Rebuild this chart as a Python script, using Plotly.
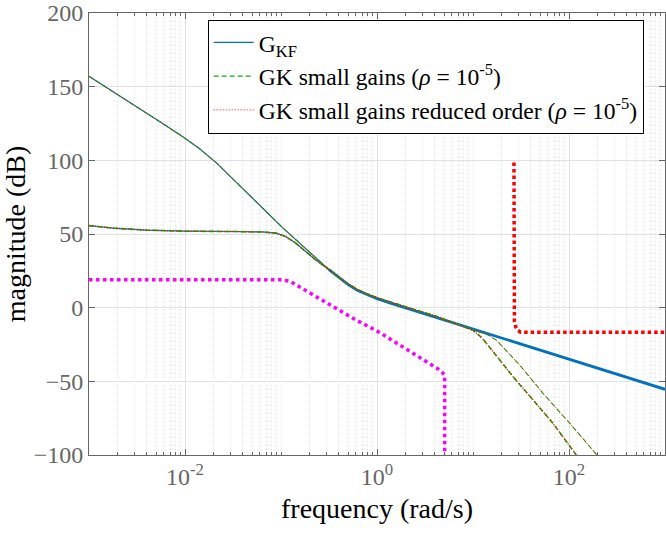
import plotly.graph_objects as go

# ---- data (frequency in rad/s, magnitude in dB) ----
freq_kf_high = [0.001, 0.002, 0.00427, 0.00631, 0.00955, 0.0141, 0.0214, 0.0316, 0.0472,
                0.0708, 0.105, 0.158, 0.234, 0.316]
mag_kf_high = [157.0, 144.6, 130.9, 123.6, 115.9, 108.0, 98.1, 87.5, 76.2,
               64.9, 54.0, 43.4, 33.8, 25.8]

freq_kf_low = [0.001, 0.00178, 0.00398, 0.01, 0.0316, 0.0631, 0.0891, 0.112, 0.141,
               0.178, 0.224, 0.316]
mag_kf_low = [55.7, 54.0, 52.6, 51.9, 51.7, 51.4, 50.6, 48.3, 44.0, 38.5, 33.0, 25.8]

freq_kf_mid = [0.316, 0.398, 0.501, 0.631, 0.794, 1.0, 1.41, 2.0, 4.16, 10, 31.6, 100, 265, 1000]
mag_kf_mid = [25.8, 20.4, 15.6, 11.6, 8.6, 6.1, 2.9, -0.2, -6.6, -14.8, -25.0, -35.0, -43.4, -55.4]

freq_gk_mid = [0.316, 0.398, 0.501, 0.631, 0.794, 1.0, 1.41, 2.0, 4.16, 7.3]
mag_gk_mid = [26.0, 20.8, 16.1, 12.2, 9.2, 6.8, 3.6, 0.5, -5.9, -11.6]

freq_gk_branch1 = [7.3, 10, 12.6, 16.2, 26.1, 42.2, 68.1, 119, 135]
mag_gk_branch1 = [-11.6, -15.3, -21.0, -29.8, -46.8, -62.6, -78.5, -100.0, -104.0]

freq_gk_branch2 = [7.3, 10, 13.8, 17.5, 30.6, 53.6, 102, 193, 214]
mag_gk_branch2 = [-11.6, -15.3, -18.0, -22.0, -38.9, -58.1, -78.5, -100.0, -103.0]

freq_red_thick = [26.7, 26.7, 27.0, 27.8, 29.0, 31.3, 1000]
mag_red_thick = [98.5, -6.1, -9.5, -12.9, -15.1, -16.7, -16.7]

freq_magenta = [0.001, 0.105, 0.125, 0.145, 0.253, 0.562, 1.07, 2.37, 4.5, 5.07, 5.07]
mag_magenta = [18.9, 18.9, 17.8, 15.4, 6.4, -7.2, -16.9, -30.9, -42.3, -45.7, -110.0]

xtick_vals = [0.01, 1, 100]
xtick_text = ["10<sup>-2</sup>", "10<sup>0</sup>", "10<sup>2</sup>"]
xminor_vals = [m * 10.0 ** k for k in range(-3, 3) for m in range(1, 10)] + [1000]
ytick_vals = [-100, -50, 0, 50, 100, 150, 200]

legend_names = [
    "G<sub>KF</sub>",
    "GK small gains (<i>ρ</i> = 10<sup>-5</sup>)",
    "GK small gains reduced order (<i>ρ</i> = 10<sup>-5</sup>)",
]

BLUE = "#0072BD"
GREEN = "rgb(10,175,10)"
RED = "#ff0000"
MAGENTA = "#ff00ff"
FONT = "Liberation Serif"

fig = go.Figure()

# G_KF (blue)
fig.add_trace(go.Scatter(x=freq_kf_high, y=mag_kf_high, mode="lines", name=legend_names[0],
                         line=dict(color=BLUE, width=1.2), legendgroup="kf"))
fig.add_trace(go.Scatter(x=freq_kf_low, y=mag_kf_low, mode="lines", showlegend=False,
                         line=dict(color=BLUE, width=1.2), legendgroup="kf"))
fig.add_trace(go.Scatter(x=freq_kf_mid, y=mag_kf_mid, mode="lines", showlegend=False,
                         line=dict(color=BLUE, width=2.8), legendgroup="kf"))

# GK small gains (green dashed)
fig.add_trace(go.Scatter(x=freq_kf_high + freq_gk_mid + freq_gk_branch2,
                         y=mag_kf_high + mag_gk_mid + mag_gk_branch2,
                         mode="lines", name=legend_names[1], legendgroup="gk",
                         line=dict(color=GREEN, width=1.1, dash="5px,3px")))
fig.add_trace(go.Scatter(x=freq_kf_low + freq_gk_mid + freq_gk_branch1,
                         y=mag_kf_low + mag_gk_mid + mag_gk_branch1,
                         mode="lines", showlegend=False, legendgroup="gk",
                         line=dict(color=GREEN, width=1.6, dash="5px,3px")))

# GK small gains reduced order (red dotted)
fig.add_trace(go.Scatter(x=freq_kf_high + freq_gk_mid + freq_gk_branch2,
                         y=mag_kf_high + mag_gk_mid + mag_gk_branch2,
                         mode="lines", name=legend_names[2], legendgroup="gkr",
                         line=dict(color=RED, width=1, dash="1px,2px")))
fig.add_trace(go.Scatter(x=freq_kf_low + freq_gk_mid + freq_gk_branch1,
                         y=mag_kf_low + mag_gk_mid + mag_gk_branch1,
                         mode="lines", showlegend=False, legendgroup="gkr",
                         line=dict(color=RED, width=1.4, dash="1px,2px")))

# thick dotted extra curves
fig.add_trace(go.Scatter(x=freq_red_thick, y=mag_red_thick, mode="lines", showlegend=False,
                         line=dict(color=RED, width=3.5, dash="3.5px,3px")))
fig.add_trace(go.Scatter(x=freq_magenta, y=mag_magenta, mode="lines", showlegend=False,
                         line=dict(color=MAGENTA, width=3.5, dash="3.5px,3.5px")))

axis_common = dict(
    showline=True, linecolor="#666666", linewidth=1, mirror="ticks",
    ticks="inside", tickcolor="#666666", ticklen=6,
    showgrid=True, gridcolor="#e2e2e2", gridwidth=1, zeroline=False,
    tickfont=dict(family=FONT, size=24, color="#666666"),
)

fig.update_xaxes(
    type="log", range=[-3, 3], tickmode="array", tickvals=xtick_vals, ticktext=xtick_text,
    automargin=False,
    title=dict(text="frequency (rad/s)", font=dict(family=FONT, size=28, color="black"), standoff=9),
    minor=dict(tickmode="array", tickvals=xminor_vals, ticks="inside", ticklen=3,
               tickcolor="#666666", showgrid=True, gridcolor="#dadada", griddash="1px,3px"),
    **axis_common,
)
fig.update_yaxes(
    range=[-100, 200], tickmode="array", tickvals=ytick_vals,
    automargin=False,
    title=dict(text="magnitude (dB)", font=dict(family=FONT, size=28, color="black"), standoff=1),
    **axis_common,
)

fig.update_layout(
    width=666, height=533,
    margin=dict(l=89, r=1, t=13, b=78),
    paper_bgcolor="white", plot_bgcolor="white",
    font=dict(family=FONT, color="black"),
    showlegend=True,
    legend=dict(
        x=0.206, y=0.985, xanchor="left", yanchor="top",
        bgcolor="white", bordercolor="black", borderwidth=1,
        font=dict(family=FONT, size=23.6, color="black"),
        tracegroupgap=0, itemwidth=40,
    ),
)

fig.write_html(
    "out.html",
    config={"displayModeBar": False},
    post_script="document.body.style.margin='0px';document.body.style.overflow='hidden';"
                "Plotly.relayout(document.getElementById('{plot_id}'), {width: 666, height: 533});",
)
